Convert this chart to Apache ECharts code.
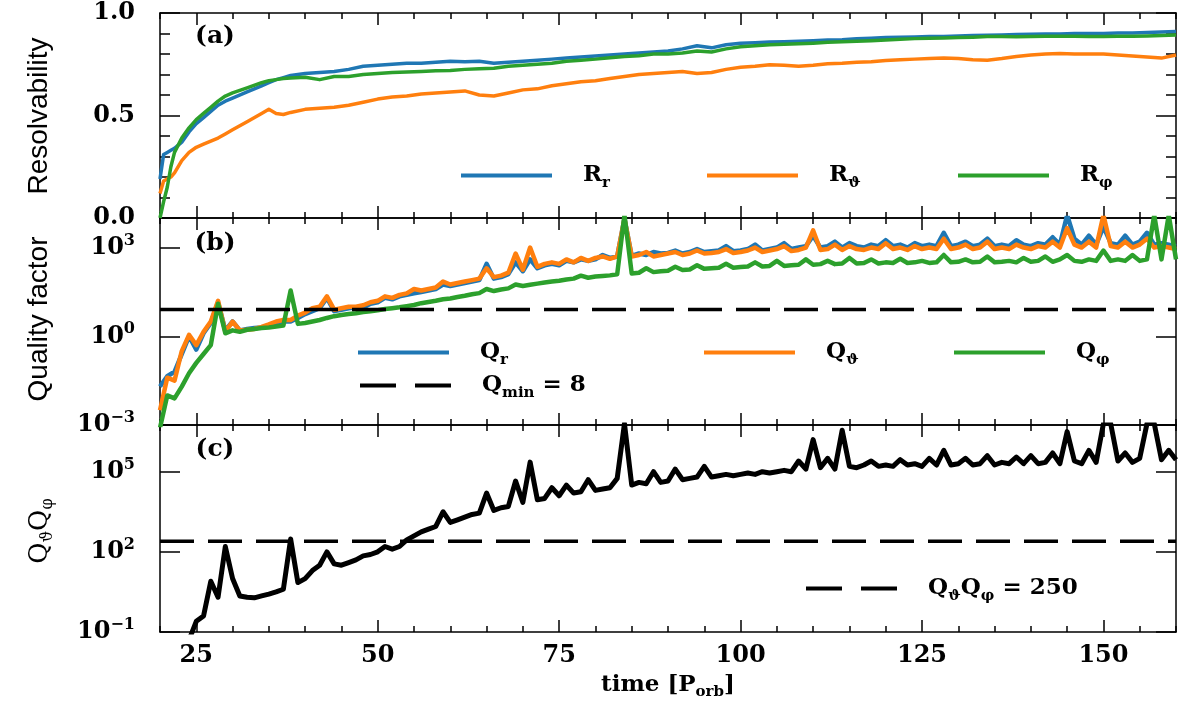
<!DOCTYPE html>
<html><head><meta charset="utf-8">
<script src="https://cdn.jsdelivr.net/npm/echarts@6/dist/echarts.min.js"></script>
<style>html,body{margin:0;padding:0;background:#fff}#c{width:1200px;height:701px}</style>
</head><body><div id="c"></div>
<script>
// ---------- DATA ----------
// Panel (a): resolvability vs time [P_orb]
const timeA = [20,20.5,21,21.5,22,23,24,25,26,27,28,29,30,32,34,35,36,37,38,
  40,42,44,46,48,50,52,54,56,58,60,62,64,66,68,70,72,74,76,78,80,82,84,86,88,90,
  92,94,96,98,100,102,104,106,108,110,112,114,116,118,120,122,124,126,128,130,
  132,134,136,138,140,142,144,146,148,150,152,154,156,158,160];
const resR = [0.19,0.31,0.32,0.33,0.34,0.37,0.42,0.46,0.49,0.52,0.55,0.57,0.585,0.615,0.645,0.66,0.675,0.685,0.695,
  0.705,0.71,0.715,0.725,0.74,0.745,0.75,0.755,0.755,0.76,0.765,0.762,0.765,0.755,0.76,0.765,0.77,0.775,0.78,0.785,0.79,0.795,0.8,0.805,0.81,0.815,
  0.825,0.84,0.83,0.845,0.852,0.855,0.858,0.86,0.862,0.865,0.868,0.87,0.875,0.877,0.88,0.882,0.883,0.885,0.885,0.888,
  0.89,0.892,0.893,0.895,0.896,0.897,0.898,0.9,0.9,0.9,0.902,0.903,0.905,0.907,0.91];
const resTh = [0.12,0.18,0.19,0.2,0.22,0.28,0.32,0.345,0.36,0.375,0.39,0.41,0.43,0.47,0.51,0.53,0.51,0.505,0.515,
  0.53,0.535,0.54,0.55,0.565,0.58,0.59,0.595,0.605,0.61,0.615,0.62,0.6,0.595,0.61,0.625,0.63,0.645,0.655,0.665,0.67,0.68,0.69,0.7,0.705,0.71,
  0.715,0.705,0.71,0.725,0.735,0.74,0.748,0.745,0.74,0.745,0.752,0.755,0.76,0.762,0.768,0.772,0.775,0.778,0.78,0.778,
  0.772,0.77,0.778,0.788,0.795,0.8,0.802,0.8,0.8,0.8,0.795,0.79,0.785,0.78,0.795];
const resPhi = [0.0,0.08,0.15,0.25,0.32,0.39,0.44,0.48,0.51,0.54,0.57,0.595,0.61,0.635,0.66,0.67,0.675,0.68,0.683,
  0.687,0.675,0.69,0.69,0.7,0.705,0.71,0.712,0.715,0.718,0.72,0.725,0.728,0.73,0.74,0.745,0.75,0.755,0.765,0.77,0.775,0.782,0.788,0.792,0.8,0.8,
  0.805,0.815,0.81,0.825,0.835,0.84,0.845,0.848,0.85,0.853,0.857,0.86,0.862,0.865,0.868,0.872,0.875,0.877,0.878,0.88,
  0.882,0.885,0.885,0.884,0.885,0.886,0.887,0.886,0.885,0.885,0.886,0.887,0.888,0.89,0.893];

// Panels (b),(c): time grid and log10 of the quality factors
const timeB = [20,21,22,23,24,25,26,27,28,29,30,31,32,33,34,35,36,37,38,39,
  40,41,42,43,44,45,46,47,48,49,50,51,52,53,54,55,56,57,58,59,
  60,61,62,63,64,65,66,67,68,69,70,71,72,73,74,75,76,77,78,79,
  80,81,82,83,84,85,86,87,88,89,90,91,92,93,94,95,96,97,98,99,
  100,101,102,103,104,105,106,107,108,109,110,111,112,113,114,115,116,117,118,119,
  120,121,122,123,124,125,126,127,128,129,130,131,132,133,134,135,136,137,138,139,
  140,141,142,143,144,145,146,147,148,149,150,151,152,153,154,155,156,157,158,159,160];
const qRLog = [-1.7,-1.35,-1.2,-0.6,0.0,-0.45,0.1,0.45,1.15,0.2,
  0.5,0.2,0.25,0.28,0.3,0.35,0.45,0.5,0.5,0.62,
  0.75,0.85,0.95,1.3,0.85,0.9,0.95,0.98,0.97,1.1,
  1.15,1.3,1.25,1.35,1.4,1.45,1.5,1.55,1.6,1.75,
  1.7,1.75,1.8,1.85,1.9,2.45,1.95,2.0,2.1,2.5,
  2.2,2.6,2.3,2.4,2.45,2.4,2.55,2.5,2.6,2.55,
  2.6,2.75,2.65,2.7,3.98,2.72,2.8,2.75,2.85,2.8,
  2.82,2.9,2.8,2.85,2.95,2.85,2.88,2.9,3.05,2.88,
  2.9,2.95,3.1,2.9,2.95,3.0,3.15,2.95,3.0,3.05,
  3.4,3.0,3.05,3.2,3.0,3.15,3.05,3.0,3.1,3.05,
  3.25,3.05,3.1,3.0,3.15,3.05,3.1,3.05,3.5,3.05,
  3.1,3.2,3.05,3.1,3.3,3.05,3.1,3.05,3.25,3.1,
  3.05,3.15,3.1,3.35,3.1,4.1,3.3,3.1,3.4,3.1,
  3.7,3.15,3.1,3.4,3.1,3.2,3.5,3.1,3.15,3.1,
  3.05];
const qThLog = [-2.5,-1.4,-1.5,-0.5,0.05,-0.3,0.15,0.5,1.2,0.15,
  0.5,0.2,0.22,0.25,0.32,0.4,0.5,0.55,0.55,0.7,
  0.8,0.95,1.0,1.35,0.9,0.95,1.0,1.0,1.05,1.15,
  1.2,1.35,1.3,1.4,1.45,1.6,1.55,1.6,1.65,1.85,
  1.75,1.8,1.85,1.9,1.95,2.3,2.0,2.05,2.15,2.8,
  2.25,3.0,2.35,2.45,2.5,2.45,2.6,2.5,2.65,2.55,
  2.65,2.7,2.62,2.7,3.98,2.7,2.75,2.85,2.7,2.75,
  2.8,2.85,2.75,2.8,2.9,2.8,2.82,2.85,2.95,2.82,
  2.85,2.9,3.0,2.85,2.9,2.95,3.05,2.88,2.92,3.0,
  3.58,2.92,2.95,3.1,2.92,3.05,2.95,2.92,3.0,2.95,
  3.15,2.95,3.0,2.92,3.05,2.95,3.0,2.95,3.3,2.95,
  3.0,3.1,2.95,3.0,3.2,2.95,3.0,2.95,3.1,3.0,
  2.95,3.05,3.0,3.2,3.0,3.66,3.1,3.0,3.2,3.0,
  4.1,3.05,3.0,3.2,3.0,3.1,3.3,3.0,3.05,3.0,
  2.95];
const qPhiLog = [-3.1,-2.0,-2.1,-1.7,-1.25,-0.9,-0.6,-0.3,1.1,0.1,
  0.2,0.15,0.22,0.25,0.28,0.3,0.33,0.36,1.55,0.42,
  0.45,0.5,0.55,0.62,0.68,0.72,0.75,0.78,0.82,0.85,
  0.88,0.92,0.95,0.98,1.02,1.06,1.12,1.16,1.2,1.25,
  1.28,1.33,1.37,1.42,1.46,1.6,1.53,1.58,1.62,1.75,
  1.7,1.74,1.78,1.82,1.85,1.88,1.92,1.95,2.05,1.98,
  2.02,2.04,2.06,2.1,4.1,2.12,2.15,2.3,2.17,2.2,
  2.22,2.35,2.24,2.26,2.4,2.28,2.3,2.32,2.45,2.32,
  2.34,2.36,2.5,2.36,2.38,2.55,2.38,2.4,2.42,2.6,
  2.42,2.44,2.55,2.44,2.46,2.65,2.46,2.48,2.6,2.46,
  2.5,2.48,2.62,2.48,2.5,2.55,2.48,2.5,2.75,2.5,
  2.52,2.6,2.5,2.52,2.7,2.5,2.52,2.55,2.5,2.65,
  2.52,2.55,2.7,2.52,2.6,2.75,2.55,2.52,2.6,2.55,
  2.9,2.55,2.6,2.55,2.75,2.55,2.6,4.1,2.6,4.1,
  2.6];
const qqLog = [-3.0,-2.6,-2.2,-1.8,-1.3,-0.6,-0.4,0.9,0.3,2.2,
  1.0,0.35,0.3,0.28,0.35,0.42,0.5,0.6,2.48,0.85,
  1.0,1.3,1.5,2.0,1.55,1.5,1.6,1.7,1.85,1.9,
  2.0,2.2,2.1,2.2,2.45,2.6,2.75,2.85,2.95,3.5,
  3.1,3.2,3.3,3.4,3.45,4.2,3.55,3.65,3.7,4.65,
  3.85,5.36,3.95,4.0,4.4,4.1,4.5,4.2,4.25,4.7,
  4.3,4.35,4.4,4.75,6.8,4.5,4.6,4.55,5.0,4.6,
  4.65,5.1,4.7,4.75,4.8,5.2,4.8,4.85,4.9,4.85,
  4.9,4.95,4.9,5.0,4.95,5.0,5.05,5.0,5.4,5.1,
  6.2,5.15,5.5,5.1,6.55,5.2,5.15,5.25,5.4,5.2,
  5.25,5.2,5.45,5.25,5.3,5.2,5.5,5.25,5.8,5.25,
  5.3,5.5,5.25,5.3,5.6,5.25,5.35,5.3,5.55,5.3,
  5.6,5.3,5.35,5.7,5.3,6.5,5.4,5.3,5.8,5.35,
  6.8,6.8,5.4,5.7,5.35,5.5,6.8,6.8,5.45,5.8,
  5.45];
const qMin = 8;
const qqMin = 250;
const xTickValues = [25, 50, 75, 100, 125, 150];
const expLabelsB = [-3, 0, 3];
const expLabelsC = [-1, 2, 5];

// ---------- STYLE ----------
const SERIF = "'DejaVu Serif', serif";
const BLUE = '#1f77b4', ORANGE = '#ff7f0e', GREEN = '#2ca02c', BLACK = '#000';
const lineSt = {color: '#000', width: 1.5};
const tickFont = {fontFamily: SERIF, fontWeight: 'bold', fontSize: 24, color: '#000'};
const rich = {
  m: {fontFamily: SERIF, fontWeight: 'bold', fontSize: 23, lineHeight: 30, color: '#000'},
  s: {fontFamily: SERIF, fontWeight: 'bold', fontSize: 15, lineHeight: 18, verticalAlign: 'bottom', color: '#000'},
  b: {fontFamily: SERIF, fontWeight: 'bold', fontSize: 24, lineHeight: 30, color: '#000'},
  p: {fontFamily: SERIF, fontWeight: 'bold', fontSize: 16, lineHeight: 20, verticalAlign: 'top', color: '#000'},
  sp: {width: 26, fontSize: 10}
};

const grids = [
  {left: 160, right: 24, top: 13, height: 205},
  {left: 160, right: 24, top: 218, height: 207},
  {left: 160, right: 24, top: 425, height: 207}
];
const allGrids = grids.concat(grids.map(g => Object.assign({}, g)));

function xMajor(g, pos, labels) {
  return {
    type: 'value', gridIndex: g, position: pos, min: 20, max: 160,
    axisLine: {show: true, onZero: false, lineStyle: lineSt},
    axisTick: {show: true, inside: true, length: 12, customValues: xTickValues, lineStyle: lineSt},
    axisLabel: labels ? Object.assign({show: true, margin: 12, customValues: xTickValues}, tickFont) : {show: false},
    splitLine: {show: false}
  };
}
function xMinor(g, pos) {
  return {
    type: 'value', gridIndex: g, position: pos, min: 20, max: 160, interval: 5,
    axisLine: {show: false},
    axisTick: {show: true, inside: true, length: 6, lineStyle: lineSt},
    axisLabel: {show: false}, splitLine: {show: false}
  };
}
const xAxes = [
  xMajor(0, 'bottom', false), xMajor(0, 'top', false),
  xMajor(1, 'bottom', false), xMajor(1, 'top', false),
  xMajor(2, 'bottom', true), xMajor(2, 'top', false),
  xMinor(3, 'bottom'), xMinor(3, 'top'),
  xMinor(4, 'bottom'), xMinor(4, 'top'),
  xMinor(5, 'bottom'), xMinor(5, 'top')
];

function expFormatter(allowed) {
  return function (v) {
    const l = Math.log10(v);
    const e = Math.round(l);
    if (Math.abs(l - e) > 1e-6 || allowed.indexOf(e) < 0) return '';
    return '{b|10}{p|' + (e < 0 ? '\u2212' + (-e) : e) + '}';
  };
}
function yLin(g, pos) {
  return {
    type: 'value', gridIndex: g, position: pos, min: 0, max: 1, interval: 0.5,
    axisLine: {show: true, onZero: false, lineStyle: lineSt},
    axisTick: {show: true, inside: true, length: 20, lineStyle: lineSt},
    minorTick: {show: true, splitNumber: 5, length: 10, lineStyle: lineSt},
    splitLine: {show: false}, minorSplitLine: {show: false},
    axisLabel: pos === 'left' ? Object.assign({show: true, margin: 25, formatter: v => v.toFixed(1)}, tickFont) : {show: false}
  };
}
function yLog(g, pos, mn, mx, allowed) {
  return {
    type: 'log', logBase: 10, gridIndex: g, position: pos, min: mn, max: mx, interval: 3,
    axisLine: {show: true, onZero: false, lineStyle: lineSt},
    axisTick: {show: true, inside: true, length: 20, lineStyle: lineSt},
    minorTick: {show: false}, splitLine: {show: false},
    axisLabel: pos === 'left' ? {show: true, margin: 25, formatter: expFormatter(allowed), rich: rich} : {show: false}
  };
}
const yAxes = [
  yLin(0, 'left'), yLin(0, 'right'),
  yLog(1, 'left', 1e-3, 1e4, expLabelsB), yLog(1, 'right', 1e-3, 1e4, expLabelsB),
  yLog(2, 'left', 0.1, 5.6e6, expLabelsC), yLog(2, 'right', 0.1, 5.6e6, expLabelsC),
  {type: 'value', gridIndex: 3, show: false, min: 0, max: 1},
  {type: 'value', gridIndex: 4, show: false, min: 0, max: 1},
  {type: 'value', gridIndex: 5, show: false, min: 0, max: 1}
];

function pairs(ts, vs) { return ts.map((t, i) => [t, vs[i]]); }
function pairsLog(ts, vs) { return ts.map((t, i) => [t, Math.pow(10, vs[i])]); }
function ln(name, xi, yi, color, data, width, dash) {
  return {
    type: 'line', name: name, xAxisIndex: xi, yAxisIndex: yi, data: data,
    showSymbol: false, symbol: 'none', animation: false, clip: true,
    lineStyle: {color: color, width: width, type: dash || 'solid', join: 'round'},
    itemStyle: {color: color}, emphasis: {disabled: true}
  };
}
const tFirst = timeB[0], tLast = timeB[timeB.length - 1];
const series = [
  ln('Rr', 0, 0, BLUE, pairs(timeA, resR), 3.5),
  ln('Rth', 0, 0, ORANGE, pairs(timeA, resTh), 3.5),
  ln('Rphi', 0, 0, GREEN, pairs(timeA, resPhi), 3.5),
  ln('Qr', 2, 2, BLUE, pairsLog(timeB, qRLog), 4.5),
  ln('Qth', 2, 2, ORANGE, pairsLog(timeB, qThLog), 4.5),
  ln('Qphi', 2, 2, GREEN, pairsLog(timeB, qPhiLog), 4.5),
  ln('Qmin', 2, 2, BLACK, [[tFirst, qMin], [tLast, qMin]], 3.5, [34, 14]),
  ln('QQ', 4, 4, BLACK, pairsLog(timeB, qqLog), 5),
  ln('QQmin', 4, 4, BLACK, [[tFirst, qqMin], [tLast, qqMin]], 3.5, [34, 14])
];

const legendText = {
  Rr: '{sp| }{m|R}{s|r}',
  Rth: '{sp| }{m|R}{s|\u03D1}',
  Rphi: '{sp| }{m|R}{s|\u03C6}',
  Qr: '{sp| }{m|Q}{s|r}',
  Qth: '{sp| }{m|Q}{s|\u03D1}',
  Qphi: '{sp| }{m|Q}{s|\u03C6}',
  Qmin: '{sp| }{m|Q}{s|min}{m| = 8}',
  QQmin: '{sp| }{m|Q}{s|\u03D1}{m|Q}{s|\u03C6}{m| = 250}'
};
const DASH_ICON = 'path://M0,0H36V4H0Z M55,0H91V4H55Z';
function leg(name, left, iconY, dashed) {
  return {
    data: [name], left: left, top: iconY - 2, padding: 0, orient: 'horizontal',
    icon: dashed ? DASH_ICON : 'rect',
    itemWidth: 91, itemHeight: 4, itemGap: 0, selectedMode: false,
    formatter: n => legendText[n], textStyle: {rich: rich}
  };
}
const legends = [
  leg('Rr', 461, 166), leg('Rth', 707, 166), leg('Rphi', 958, 166),
  leg('Qr', 358, 343), leg('Qth', 704, 343), leg('Qphi', 954, 343),
  leg('Qmin', 360, 376, true),
  leg('QQmin', 806, 579, true)
];

function txt(x, y, text, opts) {
  return Object.assign({
    type: 'text', x: x, y: y, silent: true,
    style: Object.assign({text: text, align: 'center', verticalAlign: 'middle',
      textAlign: 'center', textVerticalAlign: 'middle', fill: '#000'}, opts.style)
  }, opts.el || {});
}
const panelFont = {fontFamily: SERIF, fontWeight: 'bold', fontSize: 25};
const nameFont = {fontFamily: "'Liberation Sans', sans-serif", fontSize: 28};
const graphics = [
  txt(215, 36, '(a)', {style: panelFont}),
  txt(215, 243, '(b)', {style: panelFont}),
  txt(215, 449, '(c)', {style: panelFont}),
  txt(39, 116, 'Resolvability', {style: nameFont, el: {rotation: Math.PI / 2}}),
  txt(39, 319, 'Quality factor', {style: nameFont, el: {rotation: Math.PI / 2}}),
  txt(40, 531, '{q|Q}{u|\u03D1}{q|Q}{u|\u03C6}', {style: {rich: {
      q: {fontFamily: SERIF, fontSize: 26, lineHeight: 32, fill: '#000'},
      u: {fontFamily: SERIF, fontSize: 16, lineHeight: 18, verticalAlign: 'bottom', fill: '#000'}}},
    el: {rotation: Math.PI / 2}}),
  txt(668, 685, '{m|time [P}{s|orb}{m|]}', {style: {rich: rich}})
];

const chart = echarts.init(document.getElementById('c'), null, {renderer: 'canvas'});
chart.setOption({
  backgroundColor: '#fff',
  animation: false,
  grid: allGrids,
  xAxis: xAxes,
  yAxis: yAxes,
  legend: legends,
  graphic: graphics,
  series: series
});
</script>
</body></html>
